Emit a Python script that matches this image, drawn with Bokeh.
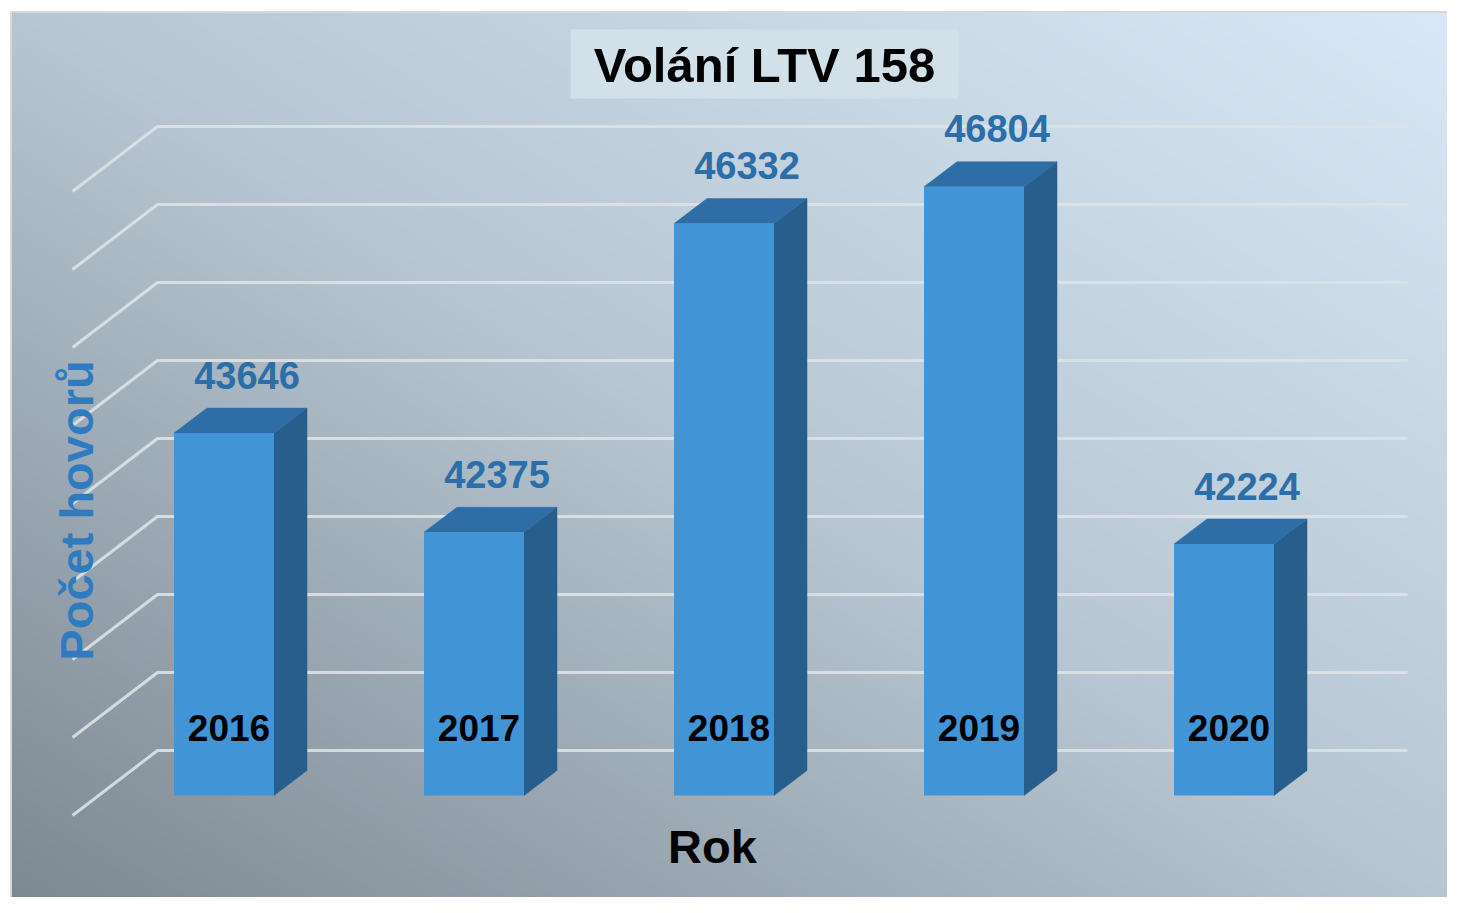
import numpy as np
from bokeh.plotting import figure
from bokeh.models import Range1d
from bokeh.core.properties import value
from bokeh.embed import file_html
from bokeh.resources import INLINE

# ---- data ----
years = ["2016", "2017", "2018", "2019", "2020"]
calls = [43646, 42375, 46332, 46804, 42224]
grid_values = [39000, 40000, 41000, 42000, 43000, 44000, 45000, 46000, 47000]
title_text = "Volání LTV 158"
x_title = "Rok"
y_title = "Počet hovorů"
BASE = 39000

# ---- layout (pixel geometry of the pseudo-3D scene) ----
W, H = 1447, 897
OFF = 0
PXC = 250.0    # px per category
PXU = 0.078    # px per call
X0 = 223.5     # image x of category 0 front-face centre
Y0 = 795.0     # image y of BASE value on bar front plane


def X(ix):
    return (ix - X0) / PXC


def Y(iy):
    return BASE + (Y0 - iy) / PXU


def DX(px):
    return px / PXC


def DY(px):
    return px / PXU


FONT = value("Liberation Sans")

p = figure(width=W, height=H,
           x_range=Range1d(X(OFF), X(OFF + W)),
           y_range=Range1d(Y(OFF + H), Y(OFF)),
           output_backend="svg", toolbar_location=None,
           x_axis_location=None, y_axis_location=None,
           min_border=0)
p.grid.visible = False
p.outline_line_color = None
p.background_fill_color = "white"
p.border_fill_color = "white"

# ---- gradient background ----
GH, GW = 300, 480
yy, xx = np.mgrid[0:GH, 0:GW]
t = (xx / (GW - 1) + yy / (GH - 1)) / 2.0  # 0 bottom-left, 1 top-right
c0 = np.array([125, 137, 147], float)
c1 = np.array([183, 198, 210], float)
c2 = np.array([216, 232, 246], float)
t3 = t[..., None]
col = np.where(t3 < 0.5, c0 + (c1 - c0) * (t3 / 0.5), c1 + (c2 - c1) * ((t3 - 0.5) / 0.5))
img = np.empty((GH, GW), dtype=np.uint32)
view = img.view(dtype=np.uint8).reshape((GH, GW, 4))
view[..., 0] = col[..., 0].astype(np.uint8)
view[..., 1] = col[..., 1].astype(np.uint8)
view[..., 2] = col[..., 2].astype(np.uint8)
view[..., 3] = 255
p.image_rgba(image=[img], x=X(10), y=Y(H), dw=X(W) - X(10), dh=Y(12) - Y(H))

# frame edge lines
p.segment(x0=[X(10.5), X(10)], y0=[Y(12), Y(11.5)], x1=[X(10.5), X(W)], y1=[Y(H), Y(11.5)],
          line_color="#d6d8da", line_width=2)

# ---- walls / gridlines ----
back_dy = DY(45)
front_dy = DY(20)
xs, ys = [], []
for v in grid_values:
    xs.append([X(72), X(157), X(1407)])
    ys.append([v - front_dy, v + back_dy, v + back_dy])
p.multi_line(xs=xs, ys=ys, line_color="#dde2e6", line_width=3, line_alpha=0.9)

# ---- bars ----
half = DX(50)
ddx, ddy = DX(33), DY(25)
sx, sy, tx, ty = [], [], [], []
for i, v in enumerate(calls):
    l, r = i - half, i + half
    sx.append([r, r + ddx, r + ddx, r])
    sy.append([BASE, BASE + ddy, v + ddy, v])
    tx.append([l, r, r + ddx, l + ddx])
    ty.append([v, v, v + ddy, v + ddy])
p.patches(xs=sx, ys=sy, fill_color="#275e8b", line_color="#275e8b", line_width=0.5)
p.patches(xs=tx, ys=ty, fill_color="#2e6da5", line_color="#2e6da5", line_width=0.5)
p.quad(left=[i - half for i in range(len(calls))], right=[i + half for i in range(len(calls))],
       bottom=[BASE] * len(calls), top=calls, fill_color="#4194d5", line_color=None)

# ---- value labels ----
p.text(x=[i + DX(23) for i in range(len(calls))], y=[v + DY(58) for v in calls],
       text=[str(v) for v in calls], text_font=FONT, text_font_style="bold",
       text_font_size="38px", text_color="#2c6ea8", text_align="center", text_baseline="middle")

# ---- category labels inside bars ----
p.text(x=[i + DX(5) for i in range(len(years))], y=[BASE + DY(68)] * len(years),
       text=years, text_font=FONT, text_font_style="bold",
       text_font_size="37px", text_color="black", text_align="center", text_baseline="middle")

# ---- title ----
p.quad(left=[X(570)], right=[X(958)], top=[Y(29)], bottom=[Y(98)],
       fill_color="#d2e0ea", line_color=None)
p.text(x=[X(764)], y=[Y(64)], text=[title_text], text_font=FONT, text_font_style="bold",
       text_font_size="49px", text_color="black", text_align="center", text_baseline="middle")

# ---- axis titles ----
p.text(x=[X(712)], y=[Y(846)], text=[x_title], text_font=FONT, text_font_style="bold",
       text_font_size="47px", text_color="black", text_align="center", text_baseline="middle")
p.text(x=[X(76)], y=[Y(510)], text=[y_title], text_font=FONT, text_font_style="bold",
       text_font_size="47px", text_color="#2e7bc0", text_align="center", text_baseline="middle",
       angle=np.pi / 2)

open("out.html", "w").write(file_html(p, INLINE))
